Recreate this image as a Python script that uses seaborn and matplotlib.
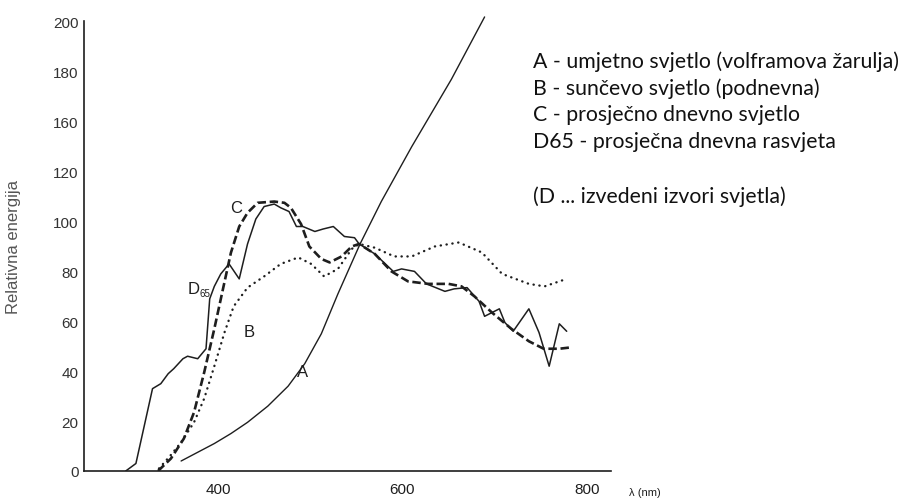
import numpy as np
import pandas as pd
import matplotlib
matplotlib.use("Agg")
import matplotlib.pyplot as plt
import seaborn as sns

# values (wavelength in nm, relative energy)
d65_nm = [300, 311, 329, 338, 346, 352, 362, 367, 378, 387, 391, 396, 403, 412, 423,
          432, 441, 450, 461, 468, 477, 485, 492, 505, 514, 525, 537, 548, 553, 570,
          580, 590, 599, 613, 626, 646, 656, 670, 683, 689, 697, 705, 711, 720, 737,
          748, 759, 770, 778]
d65_val = [0, 3, 33, 35, 39, 41, 45, 46, 45, 49, 69, 74, 79, 83, 77,
           91, 101, 106, 107, 105.5, 104, 98, 98, 96, 97, 98, 94, 93.5, 91, 87,
           83.5, 80, 81, 80, 75, 72, 73, 73.5, 68, 62, 63.5, 65, 59.5, 56, 65,
           55.5, 42, 59, 56]

c_nm = [335, 349, 363, 374, 385, 396, 406, 414, 423, 432, 443, 461, 472, 479, 490,
        499, 512, 521, 534, 545, 553, 570, 588, 606, 628, 650, 664, 678, 697, 718,
        737, 753, 770, 784]
c_val = [0, 5, 13, 23.5, 39.5, 57, 74, 87.5, 98, 103.5, 107.5, 108, 107.5, 105.5, 99,
         90, 85, 83.6, 86, 90, 91, 87, 80, 76, 75, 75, 74, 70, 63.5, 57,
         52, 49, 49, 49.6]

b_nm = [336, 348, 360, 374, 385, 396, 407, 417, 432, 450, 468, 487, 501, 515, 530,
        545, 553, 570, 591, 610, 635, 661, 686, 708, 737, 754, 778]
b_val = [1, 6, 11.5, 19.5, 29, 42, 55.5, 66, 73.5, 78, 83, 85.6, 83, 78, 81,
         89, 91, 89.5, 86, 86, 90, 91.6, 87.6, 79, 75, 74, 77]

a_nm = [360, 378, 396, 414, 432, 454, 476, 494, 512, 530, 554, 577, 610, 653, 689]
a_val = [4, 7.5, 11, 15, 19.5, 26, 34, 43, 55, 71, 91, 108, 130, 157, 182]

# y tick labels as printed (the scan skips 140)
ytick_pos = [0, 20, 40, 60, 80, 100, 120, 140, 160, 180]
ytick_lab = ["0", "20", "40", "60", "80", "100", "120", "160", "180", "200"]
xtick_pos = [300, 400, 500, 600, 700, 800]
xtick_lab = ["", "400", "", "600", "", "800"]

legend_lines = [
    "A - umjetno svjetlo (volframova žarulja)",
    "B - sunčevo svjetlo (podnevna)",
    "C - prosječno dnevno svjetlo",
    "D65 - prosječna dnevna rasvjeta",
    "(D ... izvedeni izvori svjetla)",
]

sns.set_style("white")
plt.rcParams["font.family"] = ["Liberation Sans", "DejaVu Sans"]
narrow = ["Liberation Sans Narrow", "Liberation Sans", "DejaVu Sans"]
ink = "#1e1e1e"

fig = plt.figure(figsize=(9.03, 5.02), dpi=100)
ax = fig.add_axes([0.093, 0.0598, 0.5836, 0.897])

sns.lineplot(x=a_nm, y=a_val, ax=ax, color=ink, linewidth=1.0, clip_on=False)
sns.lineplot(x=d65_nm, y=d65_val, ax=ax, color=ink, linewidth=1.1)
sns.lineplot(x=c_nm, y=c_val, ax=ax, color=ink, linewidth=1.9,
             linestyle=(0, (3.2, 1.4)))
sns.lineplot(x=b_nm, y=b_val, ax=ax, color=ink, linewidth=1.7,
             linestyle=(0, (0.1, 2.4)))
ax.lines[-1].set_dash_capstyle("round")

ax.set_xlim(254.7, 826)
ax.set_ylim(0, 180.5)
ax.set_xticks(xtick_pos)
ax.set_xticklabels(xtick_lab, family=narrow, fontsize=11, color=ink)
ax.set_yticks(ytick_pos)
ax.set_yticklabels(ytick_lab, fontsize=11, color="#333333")
ax.tick_params(axis="x", direction="in", length=6, width=1.1, pad=8, colors=ink)
ax.tick_params(axis="y", direction="in", length=4, width=1.0, pad=4)
ax.tick_params(axis="y", labelcolor="#333333")

for side in ["top", "right"]:
    ax.spines[side].set_visible(False)
for side in ["left", "bottom"]:
    ax.spines[side].set_color(ink)
    ax.spines[side].set_linewidth(1.2)

ax.set_xlabel("")
ax.set_ylabel("Relativna energija", fontsize=12, color="#555555")
ax.yaxis.set_label_coords(-0.12, 0.5)

# curve labels
lab_kw = dict(family=narrow, fontsize=12, color=ink, ha="center", va="center")
ax.text(420, 105.6, "C", **lab_kw)
ax.text(434, 56, "B", **lab_kw)
ax.text(492, 40, "A", **lab_kw)
ax.text(374, 73, "D", **lab_kw)
ax.annotate("65", xy=(374, 73), xytext=(8, -3), textcoords="offset points",
            family=narrow, fontsize=7, color=ink, ha="center", va="center")

fig.text(645 / 903, 1 - 493 / 502, "λ (nm)", family=narrow, fontsize=8,
         color=ink, ha="center", va="center")

for txt, ypx in zip(legend_lines, [62, 89, 115, 142, 197]):
    fig.text(533 / 903, 1 - ypx / 502, txt, family=["Lato", "DejaVu Sans"],
             fontsize=15.3, color="#111111", ha="left", va="center")

fig.savefig("out.png", dpi=100)
